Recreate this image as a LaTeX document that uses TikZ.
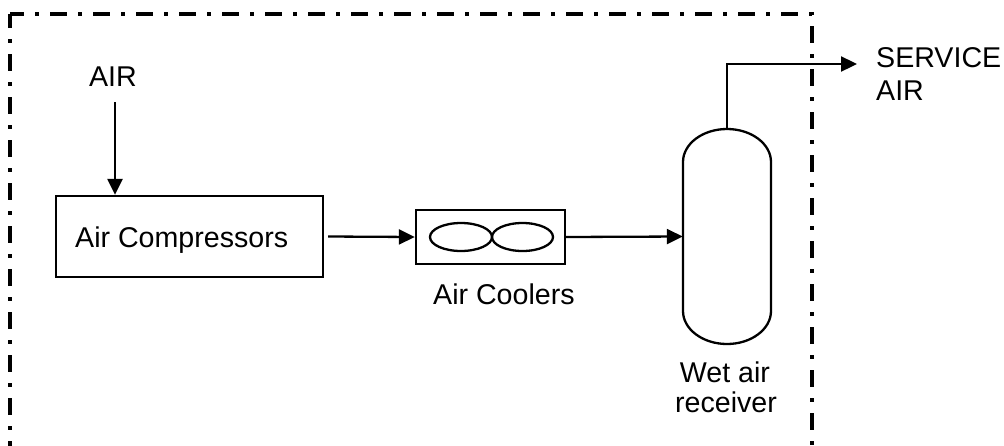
\documentclass[tikz,border=0pt]{standalone}
\usepackage{fontspec}
\setmainfont{Liberation Sans}
\usetikzlibrary{arrows.meta}
\begin{document}
\begin{tikzpicture}[x=1pt,y=-1pt,
  boundary/.style={line width=4.5pt,dash pattern=on 17pt off 11pt on 4pt off 11pt,dash phase=3pt},
  unit/.style={draw,line width=2.3pt,inner sep=0pt},
  flow/.style={line width=2.3pt,-{Triangle[length=16pt,width=15pt]}},
  lbl/.style={inner sep=0pt,font=\fontsize{28.6}{33}\selectfont}]
\useasboundingbox (0,0) rectangle (1004,445);
% boundary
\draw[boundary] (10,14) -- (10,447);
\draw[boundary] (10,14) -- (812,14) -- (812,447);
% units
\node[unit,minimum width=267pt,minimum height=81pt] (comp) at (189.5,236.5) {};
\node[unit,minimum width=149pt,minimum height=54pt] (cool) at (490.5,237) {};
\draw[line width=2.3pt] (461,237) ellipse [x radius=31pt,y radius=14pt];
\draw[line width=2.3pt] (522.5,237) ellipse [x radius=30.5pt,y radius=14pt];
\node[inner sep=0pt,minimum width=88pt,minimum height=215pt] (recv) at (727,236.5) {};
\draw[line width=2.3pt] (683,162) arc[start angle=180,end angle=0,x radius=44pt,y radius=33pt]
  -- (771,311) arc[start angle=0,end angle=-180,x radius=44pt,y radius=33pt] -- cycle;
% labels
\node[lbl,anchor=base] (airlbl) at (113,86) {AIR};
\node[lbl,anchor=base west] (complbl) at (75,247) {Air Compressors};
\node[lbl,anchor=base west] (coollbl) at (433,304) {Air Coolers};
\node[lbl,anchor=base] (recvlbl1) at (725,382) {Wet air};
\node[lbl,anchor=base] (recvlbl2) at (726,412) {receiver};
\node[lbl,anchor=base west] (svc1) at (876,67) {SERVICE};
\node[lbl,anchor=base west] (svc2) at (876,100) {AIR};
% connectors
\coordinate (airin) at (115,102);
\coordinate (svcout) at (857,64);
\draw[flow] (airin) -- (airin |- comp.north);
\draw[flow] ([xshift=4pt]comp.east) -- (cool.west);
\draw[flow] (cool.east) -- (recv.west);
\draw[flow] (recv.north) |- (svcout);
\end{tikzpicture}
\end{document}
